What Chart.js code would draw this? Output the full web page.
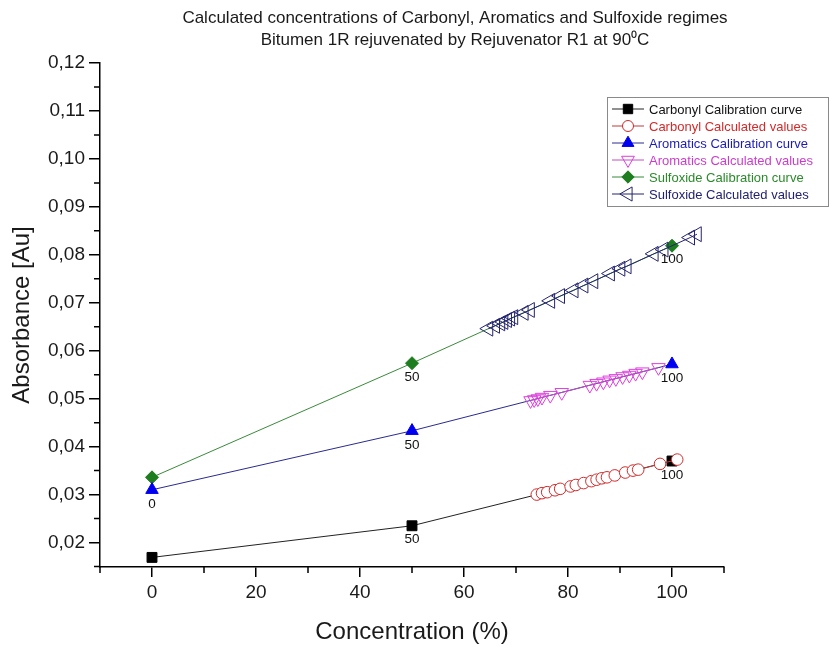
<!DOCTYPE html>
<html>
<head>
<meta charset="utf-8">
<title>Calculated concentrations</title>
<script src="https://cdn.jsdelivr.net/npm/chart.js@4.4.1/dist/chart.umd.min.js"></script>
<style>
  html, body { margin: 0; padding: 0; background: #fff; }
  #wrap { position: relative; width: 830px; height: 647px; }
</style>
</head>
<body>
<div id="wrap"><canvas id="absChart"></canvas></div>
<script>
// calibration points, concentration 0 / 50 / 100 %
const calibX = [0, 50, 100];
const carbonylCal = [0.0169, 0.0235, 0.0370];
const aromaticsCal = [0.0310, 0.0433, 0.0572];
const sulfoxideCal = [0.0336, 0.0574, 0.0819];
// labels written under the calibration points
const carbonylLabels = ['', '50', '100'];
const aromaticsLabels = ['0', '50', '100'];
const sulfoxideLabels = ['', '50', '100'];

// calculated values
const carbonylX = [74.0, 75.0, 76.0, 77.5, 78.5, 80.5, 81.5, 83.0, 84.5, 85.5, 86.5, 87.5, 89.0, 91.0, 92.5, 93.5, 97.7, 101.0];
const carbonylY = [0.0300, 0.0303, 0.0305, 0.0309, 0.0312, 0.0317, 0.0320, 0.0324, 0.0328, 0.0331, 0.0334, 0.0336, 0.0340, 0.0346, 0.0350, 0.0352, 0.0364, 0.0373];
const aromaticsX = [72.8, 73.5, 74.2, 75.0, 76.6, 78.8, 84.2, 85.5, 86.8, 88.0, 89.2, 90.5, 91.8, 93.0, 94.3, 97.4];
const aromaticsY = [0.0496, 0.0498, 0.0500, 0.0503, 0.0507, 0.0513, 0.0528, 0.0532, 0.0535, 0.0539, 0.0542, 0.0546, 0.0549, 0.0553, 0.0556, 0.0565];
const sulfoxideX = [64.7, 66.0, 67.0, 67.6, 68.3, 68.9, 69.5, 71.5, 72.7, 76.6, 78.5, 81.1, 83.0, 84.9, 88.1, 90.1, 91.3, 96.5, 98.4, 103.5, 104.8];
const sulfoxideY = [0.0646, 0.0652, 0.0657, 0.0660, 0.0664, 0.0667, 0.0670, 0.0679, 0.0685, 0.0704, 0.0714, 0.0726, 0.0736, 0.0745, 0.0761, 0.0771, 0.0776, 0.0802, 0.0811, 0.0836, 0.0843];

const titleLines = ['Calculated concentrations of Carbonyl, Aromatics and Sulfoxide regimes',
                    'Bitumen 1R rejuvenated by Rejuvenator R1 at 90\u2070C'];

const FONT = '"Liberation Sans", Arial, sans-serif';
Chart.defaults.font.family = FONT;
Chart.defaults.color = '#1a1a1a';

const pts = (xs, ys) => xs.map((x, i) => ({ x: x, y: ys[i] }));

// series: data + look
const series = [
  { label: 'Carbonyl Calibration curve', data: pts(calibX, carbonylCal), pl: carbonylLabels,
    color: '#000000', line: '#222222', fill: '#000000', style: 'rect', rot: 0, r: 7, text: '#111111', order: 1 },
  { label: 'Carbonyl Calculated values', data: pts(carbonylX, carbonylY),
    color: '#d02c2c', line: '#c03a3a', fill: '#ffffff', style: 'circle', rot: 0, r: 5.8, text: '#d42a2a', order: 0 },
  { label: 'Aromatics Calibration curve', data: pts(calibX, aromaticsCal), pl: aromaticsLabels,
    color: '#0000f0', line: '#2a2a90', fill: '#0000f0', style: 'triangle', rot: 0, r: 7.2, text: '#1c1cb4', order: 1 },
  { label: 'Aromatics Calculated values', data: pts(aromaticsX, aromaticsY),
    color: '#dd3fdd', line: '#c050c0', fill: 'rgba(255,255,255,0)', style: 'triangle', rot: 180, r: 7.8, text: '#cc3ccc', order: 0 },
  { label: 'Sulfoxide Calibration curve', data: pts(calibX, sulfoxideCal), pl: sulfoxideLabels,
    color: '#1e7d1e', line: '#3a8a3a', fill: '#1e7d1e', style: 'rectRot', rot: 0, r: 6.5, text: '#2a8a2a', order: 1 },
  { label: 'Sulfoxide Calculated values', data: pts(sulfoxideX, sulfoxideY),
    color: '#25256f', line: '#25256f', fill: 'rgba(255,255,255,0)', style: 'triangle', rot: 270, r: 8.6, text: '#222270', order: 0 }
];

const isMajor = (v, step) => Math.abs(v / step - Math.round(v / step)) < 1e-6;

function marker(ctx, s, x, y, r) {
  ctx.save();
  ctx.translate(x, y);
  ctx.rotate(s.rot * Math.PI / 180);
  ctx.beginPath();
  if (s.style === 'rect') {
    const h = r * Math.SQRT1_2;
    ctx.rect(-h, -h, 2 * h, 2 * h);
  } else if (s.style === 'circle') {
    ctx.arc(0, 0, r, 0, Math.PI * 2);
  } else if (s.style === 'rectRot') {
    ctx.moveTo(0, -r); ctx.lineTo(r, 0); ctx.lineTo(0, r); ctx.lineTo(-r, 0);
  } else {
    const a = r * Math.sqrt(3) / 2;
    ctx.moveTo(0, -r); ctx.lineTo(a, r / 2); ctx.lineTo(-a, r / 2);
  }
  ctx.closePath();
  ctx.fillStyle = s.fill;
  ctx.fill();
  ctx.strokeStyle = s.color;
  ctx.lineWidth = 1;
  ctx.stroke();
  ctx.restore();
}

const extras = {
  id: 'extras',
  afterDatasetsDraw(chart) {
    const ctx = chart.ctx;
    ctx.save();
    ctx.font = '13.5px ' + FONT;
    ctx.fillStyle = '#111';
    ctx.textAlign = 'center';
    ctx.textBaseline = 'middle';
    series.forEach((s, i) => {
      if (!s.pl) return;
      chart.getDatasetMeta(i).data.forEach((p, j) => {
        if (s.pl[j]) ctx.fillText(s.pl[j], p.x, p.y + 14);
      });
    });
    ctx.restore();
  },
  afterDraw(chart) {
    const ctx = chart.ctx;
    const xs = chart.scales.x, ys = chart.scales.y;
    ctx.save();
    // minor ticks
    ctx.strokeStyle = '#000';
    ctx.lineWidth = 1.5;
    ctx.beginPath();
    xs.ticks.forEach(t => {
      if (isMajor(t.value, 20)) return;
      const px = xs.getPixelForValue(t.value);
      ctx.moveTo(px, xs.top); ctx.lineTo(px, xs.top + 6);
    });
    ys.ticks.forEach(t => {
      if (isMajor(t.value, 0.01)) return;
      const py = ys.getPixelForValue(t.value);
      ctx.moveTo(ys.right, py); ctx.lineTo(ys.right - 6, py);
    });
    ctx.stroke();

    // title
    ctx.fillStyle = '#1a1a1a';
    ctx.textAlign = 'center';
    ctx.textBaseline = 'middle';
    ctx.font = '17px ' + FONT;
    ctx.fillText(titleLines[0], 455, 18);
    ctx.fillText(titleLines[1], 455, 40);

    // legend box
    const lx = 607, ly = 97, lw = 222, lh = 110, row = 17;
    ctx.fillStyle = '#fff';
    ctx.fillRect(lx, ly, lw, lh);
    ctx.strokeStyle = '#8a8a8a';
    ctx.lineWidth = 1;
    ctx.strokeRect(lx + 0.5, ly + 0.5, lw - 1, lh - 1);
    ctx.font = '13px ' + FONT;
    ctx.textAlign = 'left';
    series.forEach((s, i) => {
      const y = ly + 12 + i * row;
      ctx.strokeStyle = s.line;
      ctx.lineWidth = 1;
      ctx.beginPath();
      ctx.moveTo(lx + 5, y); ctx.lineTo(lx + 37, y);
      ctx.stroke();
      marker(ctx, s, lx + 21, y, s.r * 0.95);
      ctx.fillStyle = s.text;
      ctx.fillText(s.label, lx + 42, y + 1);
    });
    ctx.restore();
  }
};

const ctx = document.getElementById('absChart').getContext('2d');
const absChart = new Chart(ctx, {
  type: 'line',
  data: {
    datasets: series.map(s => ({
      label: s.label,
      data: s.data,
      borderColor: s.line,
      borderWidth: 1,
      pointStyle: s.style,
      pointRotation: s.rot,
      pointRadius: s.r,
      pointBorderWidth: 1,
      pointBorderColor: s.color,
      pointBackgroundColor: s.fill,
      showLine: true,
      tension: 0,
      order: s.order
    }))
  },
  options: {
    responsive: true,
    maintainAspectRatio: false,
    animation: false,
    layout: { padding: { top: 63, right: 106, bottom: 0, left: 0 } },
    plugins: {
      legend: { display: false },
      tooltip: { enabled: false }
    },
    scales: {
      x: {
        type: 'linear',
        min: -10,
        max: 110,
        afterFit: s => { s.height = 80; },
        border: { display: true, color: '#000', width: 1.5 },
        grid: {
          drawOnChartArea: false,
          tickLength: 10,
          lineWidth: 1.5,
          color: c => (c.tick && isMajor(c.tick.value, 20)) ? '#000' : 'rgba(0,0,0,0)'
        },
        ticks: {
          stepSize: 10,
          autoSkip: false,
          maxRotation: 0,
          padding: 4,
          font: { size: 19 },
          color: '#1a1a1a',
          callback: v => isMajor(v, 20) ? String(v) : ''
        },
        title: { display: true, text: 'Concentration (%)', font: { size: 24 }, color: '#1a1a1a', padding: { top: 0, bottom: 0 } }
      },
      y: {
        min: 0.0149,
        max: 0.12,
        afterFit: s => { s.width = 100; },
        border: { display: true, color: '#000', width: 1.5 },
        grid: {
          drawOnChartArea: false,
          tickLength: 11,
          lineWidth: 1.5,
          color: c => (c.tick && isMajor(c.tick.value, 0.01)) ? '#000' : 'rgba(0,0,0,0)'
        },
        ticks: {
          stepSize: 0.005,
          includeBounds: false,
          autoSkip: false,
          padding: 4,
          font: { size: 19 },
          color: '#1a1a1a',
          callback: v => isMajor(v, 0.01) ? v.toFixed(2).replace('.', ',') : ''
        },
        title: { display: true, text: 'Absorbance [Au]', font: { size: 24 }, color: '#1a1a1a', padding: { top: 8, bottom: 0 } }
      }
    }
  },
  plugins: [extras]
});
</script>
</body>
</html>
